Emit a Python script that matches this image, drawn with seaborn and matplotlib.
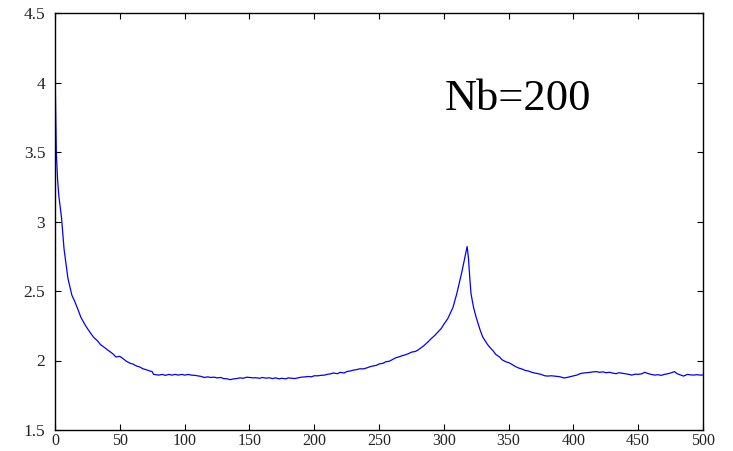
import numpy as np
import pandas as pd
import matplotlib
matplotlib.use("Agg")
import matplotlib.pyplot as plt
import seaborn as sns

x_vals = [0, 1, 2, 3, 5, 7, 10, 13, 15, 18, 20, 23, 25, 28, 30, 33, 35, 38, 40, 43,
          45, 47, 50, 53, 55, 58, 60, 63, 65, 68, 70, 73, 75, 76, 80, 83, 85, 88, 90, 93,
          95, 98, 100, 103, 105, 108, 110, 113, 115, 118, 120, 123, 125, 128, 130, 133, 135, 138, 140, 143,
          145, 148, 150, 153, 155, 158, 160, 163, 165, 168, 170, 173, 175, 178, 180, 183, 185, 188, 190, 193,
          195, 198, 200, 203, 205, 208, 210, 213, 215, 218, 220, 223, 225, 228, 230, 233, 235, 238, 240, 243,
          245, 248, 250, 253, 255, 258, 260, 263, 265, 268, 270, 273, 275, 278, 280, 283, 285, 288, 290, 293,
          295, 298, 300, 303, 305, 307, 310, 312, 314, 316, 318, 319, 320, 321, 323, 325, 328, 330, 333, 335,
          338, 340, 343, 345, 348, 350, 353, 355, 358, 360, 363, 365, 368, 370, 373, 375, 378, 380, 383, 385,
          388, 390, 393, 395, 398, 400, 403, 405, 408, 410, 413, 415, 418, 420, 423, 425, 428, 430, 433, 435,
          438, 440, 443, 445, 448, 450, 453, 455, 458, 460, 463, 465, 468, 470, 473, 475, 478, 480, 483, 485,
          488, 490, 493, 495, 498, 500]
y_vals = [4.11, 3.50, 3.30, 3.18, 3.03, 2.80, 2.59, 2.47, 2.43, 2.36, 2.31, 2.26, 2.23, 2.19, 2.165, 2.14, 2.115, 2.095, 2.08, 2.06,
          2.045, 2.025, 2.03, 2.01, 1.995, 1.98, 1.975, 1.96, 1.955, 1.94, 1.935, 1.925, 1.92, 1.90, 1.895, 1.90, 1.893, 1.90, 1.895, 1.90,
          1.895, 1.90, 1.895, 1.90, 1.895, 1.893, 1.89, 1.885, 1.878, 1.882, 1.878, 1.88, 1.875, 1.878, 1.87, 1.868, 1.862, 1.868, 1.87, 1.875,
          1.872, 1.88, 1.878, 1.875, 1.876, 1.872, 1.878, 1.873, 1.876, 1.87, 1.875, 1.868, 1.872, 1.868, 1.875, 1.872, 1.87, 1.876, 1.88, 1.882,
          1.885, 1.883, 1.89, 1.89, 1.893, 1.895, 1.90, 1.905, 1.91, 1.905, 1.915, 1.91, 1.92, 1.925, 1.93, 1.935, 1.94, 1.94, 1.945, 1.955,
          1.96, 1.965, 1.975, 1.98, 1.99, 1.995, 2.005, 2.02, 2.025, 2.035, 2.04, 2.05, 2.06, 2.065, 2.075, 2.095, 2.11, 2.135, 2.155, 2.18,
          2.20, 2.23, 2.26, 2.30, 2.34, 2.38, 2.48, 2.56, 2.64, 2.73, 2.82, 2.74, 2.60, 2.48, 2.38, 2.31, 2.22, 2.17, 2.125, 2.10,
          2.07, 2.045, 2.025, 2.005, 1.99, 1.985, 1.97, 1.958, 1.945, 1.94, 1.928, 1.925, 1.915, 1.91, 1.905, 1.90, 1.89, 1.888, 1.89, 1.888,
          1.885, 1.882, 1.874, 1.878, 1.885, 1.89, 1.896, 1.905, 1.91, 1.912, 1.915, 1.918, 1.92, 1.915, 1.918, 1.912, 1.915, 1.91, 1.905, 1.912,
          1.908, 1.905, 1.90, 1.895, 1.902, 1.90, 1.905, 1.915, 1.905, 1.90, 1.895, 1.898, 1.893, 1.90, 1.905, 1.91, 1.92, 1.905, 1.895, 1.888,
          1.90, 1.897, 1.895, 1.898, 1.895, 1.896]

x_ticks = [0, 50, 100, 150, 200, 250, 300, 350, 400, 450, 500]
y_ticks = [1.5, 2, 2.5, 3, 3.5, 4, 4.5]
y_tick_labels = ["1.5", "2", "2.5", "3", "3.5", "4", "4.5"]
annotation = "Nb=200"

df = pd.DataFrame({"x": x_vals, "y": y_vals})

sns.set_style("ticks")
plt.rcParams["font.family"] = ["Liberation Serif", "DejaVu Serif"]

fig = plt.figure(figsize=(7.33, 4.51), dpi=100)
ax = fig.add_axes([55 / 733, 21 / 451, 648 / 733, 417 / 451])

sns.lineplot(data=df, x="x", y="y", ax=ax, color="#0000ff", linewidth=0.9)

ax.set_xlim(0, 500)
ax.set_ylim(1.5, 4.5)
ax.set_xticks(x_ticks)
ax.set_xticklabels([str(t) for t in x_ticks])
ax.set_yticks(y_ticks)
ax.set_yticklabels(y_tick_labels)
ax.set_xlabel("")
ax.set_ylabel("")
ax.tick_params(direction="in", top=True, right=True, length=4, width=0.8,
               labelsize=12.5, labelcolor="#222222", color="black", pad=7)
ax.tick_params(axis="x", pad=2, labelsize=11.5)
for s in ax.spines.values():
    s.set_visible(True)
    s.set_linewidth(1.0)
    s.set_color("black")

ax.text(301, 3.80, annotation, fontsize=32, ha="left", va="baseline",
        color="black")

fig.savefig("out.png", dpi=100)
